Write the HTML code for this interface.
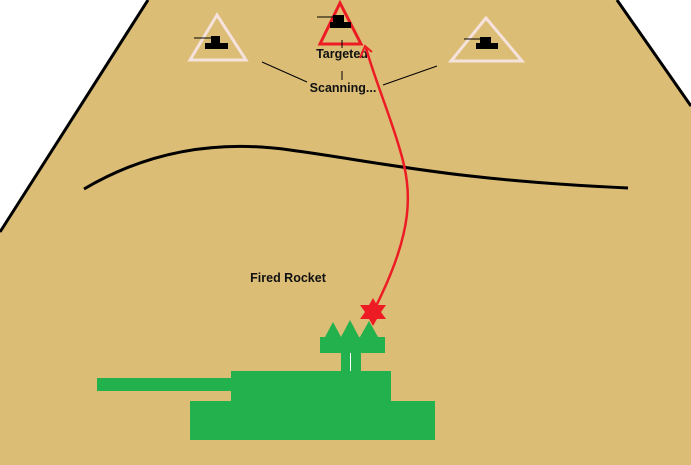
<!DOCTYPE html>
<html><head><style>
html,body{margin:0;padding:0;background:#fff;}
svg{display:block;}
text{font-family:"Liberation Sans",sans-serif;font-size:12.5px;font-weight:bold;fill:#111;}
</style></head><body>
<svg width="691" height="465" viewBox="0 0 691 465" xmlns="http://www.w3.org/2000/svg">
<polygon points="148,0 617,0 691,106 691,465 0,465 0,232" fill="#dbbd75"/>
<line x1="148" y1="0" x2="0" y2="232" stroke="#000" stroke-width="3"/>
<line x1="617" y1="0" x2="691" y2="106" stroke="#000" stroke-width="3"/>
<!-- triangles -->
<polygon points="217,15 190,60 246,60" fill="none" stroke="#f6e2dc" stroke-width="3"/>
<polygon points="340,3 320,44 361,44" fill="none" stroke="#ed1c24" stroke-width="3"/>
<polygon points="486,18 451,61 522,61" fill="none" stroke="#f6e2dc" stroke-width="3"/>
<!-- tank icons -->
<line x1="194" y1="38" x2="212" y2="38" stroke="#000" stroke-width="1"/>
<rect x="211" y="36" width="9" height="7" fill="#000"/><rect x="205" y="43" width="23" height="6" fill="#000"/>
<line x1="317" y1="17" x2="334" y2="17" stroke="#000" stroke-width="1"/>
<rect x="333" y="15" width="11" height="7" fill="#000"/><rect x="330" y="22" width="21" height="6" fill="#000"/>
<line x1="464" y1="39" x2="481" y2="39" stroke="#000" stroke-width="1"/>
<rect x="480" y="37" width="11" height="6" fill="#000"/><rect x="476" y="43" width="22" height="6" fill="#000"/>
<!-- connectors -->
<line x1="342" y1="40" x2="342" y2="48" stroke="#000" stroke-width="1"/>
<line x1="342" y1="71" x2="342" y2="80" stroke="#000" stroke-width="1"/>
<line x1="262" y1="62" x2="307" y2="82" stroke="#000" stroke-width="1"/>
<line x1="383" y1="85" x2="437" y2="66" stroke="#000" stroke-width="1"/>
<text x="342" y="58" text-anchor="middle">Targeted</text>
<text x="343" y="92" text-anchor="middle">Scanning...</text>
<text x="288" y="282" text-anchor="middle">Fired Rocket</text>
<!-- ridge -->
<path d="M84,189 C150,150 220,140 290,150 C380,162 450,180 628,188" fill="none" stroke="#000" stroke-width="3"/>
<!-- rocket path -->
<path d="M374,310 C415,230 412,190 400,150 C390,115 375,80 366,48" fill="none" stroke="#ed1c24" stroke-width="2.5"/>
<path d="M360,58 L365,46 L372,52" fill="none" stroke="#ed1c24" stroke-width="2"/>
<polygon points="373,298 377,305 386,305 381,312 386,319 377,319 373,326 369,319 360,319 365,312 360,305 369,305" fill="#ed1c24"/>
<!-- green tank -->
<g fill="#22b14c">
<polygon points="333,322 325,337 341,337"/>
<polygon points="350,320 341,337 359,337"/>
<polygon points="369,321 360,337 378,337"/>
<rect x="320" y="337" width="65" height="16"/>
<rect x="341" y="353" width="20" height="19"/>
<rect x="231" y="371" width="160" height="31"/>
<rect x="97" y="378" width="135" height="13"/>
<rect x="190" y="401" width="245" height="39"/>
</g>
<line x1="350.5" y1="353" x2="350.5" y2="371" stroke="#fff" stroke-width="1"/>
</svg>
</body></html>
